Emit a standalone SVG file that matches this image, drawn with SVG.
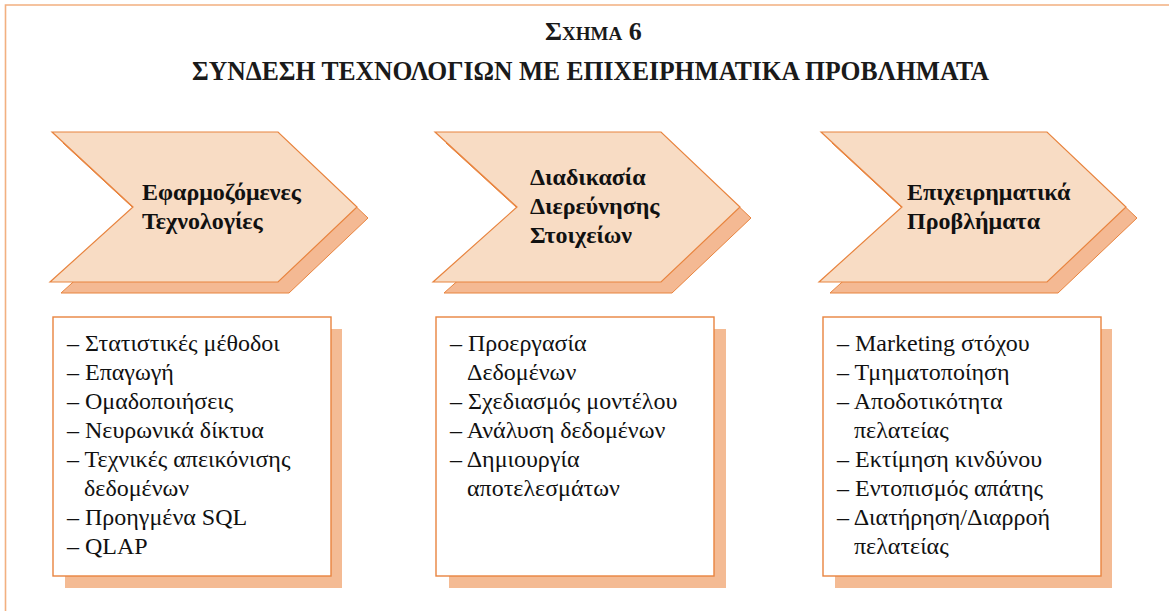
<svg xmlns="http://www.w3.org/2000/svg" width="1169" height="611" viewBox="0 0 1169 611">
<style>
.frame{fill:none;stroke:#F2B080;stroke-width:1.6}
.chev{fill:#F8DCC4;stroke:#E8843F;stroke-width:1.2}
.chevsh{fill:#F4B993;stroke:#E8843F;stroke-width:1}
.box{fill:#FFFFFF;stroke:#E8843F;stroke-width:1.4}
.boxsh{fill:#F4BB94}
.title{font-family:"Liberation Serif","Times New Roman",serif;font-weight:bold;fill:#1a1a1a}
.head{font-family:"Liberation Serif","Times New Roman",serif;font-weight:bold;font-size:24px;fill:#111}
.item{font-family:"Liberation Serif","Times New Roman",serif;font-size:24px;fill:#111}
</style>
<rect width="1169" height="611" fill="#FFFFFF"/>
<path class="frame" d="M5.5,611 V5 H1169"/>
<g id="title">
<text class="title" x="545" y="40"><tspan font-size="26">Σ</tspan><tspan font-size="19">ΧΗΜΑ</tspan><tspan font-size="26"> 6</tspan></text>
<text class="title" x="192" y="80" font-size="27" textLength="797" lengthAdjust="spacingAndGlyphs">ΣΥΝΔΕΣΗ ΤΕΧΝΟΛΟΓΙΩΝ ΜΕ ΕΠΙΧΕΙΡΗΜΑΤΙΚΑ ΠΡΟΒΛΗΜΑΤΑ</text>
</g>
<g id="node-technologies">
<polygon class="chevsh" points="63,143 289,143 368,218 289,293 61,293 144,218"/>
<polygon class="chev" points="52,132 278,132 357,207 278,282 50,282 133,207"/>
<text class="head" x="142" y="200">Εφαρμοζόμενες</text>
<text class="head" x="142" y="229">Τεχνολογίες</text>
</g>
<g id="node-process">
<polygon class="chevsh" points="446,143 672,143 751,218 672,293 444,293 528,218"/>
<polygon class="chev" points="435,132 661,132 740,207 661,282 433,282 517,207"/>
<text class="head" x="530" y="185">Διαδικασία</text>
<text class="head" x="530" y="214">Διερεύνησης</text>
<text class="head" x="530" y="243">Στοιχείων</text>
</g>
<g id="node-problems">
<polygon class="chevsh" points="832,143 1058,143 1137,218 1058,293 830,293 913,218"/>
<polygon class="chev" points="821,132 1047,132 1126,207 1047,282 819,282 902,207"/>
<text class="head" x="907" y="200">Επιχειρηματικά</text>
<text class="head" x="907" y="229">Προβλήματα</text>
</g>
<g id="box-technologies">
<rect class="boxsh" x="65" y="329" width="277" height="259"/>
<rect class="box" x="53" y="317" width="278" height="259"/>
<text class="item" x="67" y="351">– Στατιστικές μέθοδοι</text>
<text class="item" x="67" y="380">– Επαγωγή</text>
<text class="item" x="67" y="409">– Ομαδοποιήσεις</text>
<text class="item" x="67" y="438">– Νευρωνικά δίκτυα</text>
<text class="item" x="67" y="467">– Τεχνικές απεικόνισης</text>
<text class="item" x="84" y="496">δεδομένων</text>
<text class="item" x="67" y="525">– Προηγμένα SQL</text>
<text class="item" x="67" y="554">– QLAP</text>
</g>
<g id="box-process">
<rect class="boxsh" x="449" y="329" width="277" height="259"/>
<rect class="box" x="436" y="317" width="278" height="259"/>
<text class="item" x="450" y="351">– Προεργασία</text>
<text class="item" x="467" y="380">Δεδομένων</text>
<text class="item" x="450" y="409">– Σχεδιασμός μοντέλου</text>
<text class="item" x="450" y="438">– Ανάλυση δεδομένων</text>
<text class="item" x="450" y="467">– Δημιουργία</text>
<text class="item" x="467" y="496">αποτελεσμάτων</text>
</g>
<g id="box-problems">
<rect class="boxsh" x="835" y="329" width="277" height="259"/>
<rect class="box" x="823" y="317" width="278" height="259"/>
<text class="item" x="837" y="351">– Marketing στόχου</text>
<text class="item" x="837" y="380">– Τμηματοποίηση</text>
<text class="item" x="837" y="409">– Αποδοτικότητα</text>
<text class="item" x="854" y="438">πελατείας</text>
<text class="item" x="837" y="467">– Εκτίμηση κινδύνου</text>
<text class="item" x="837" y="496">– Εντοπισμός απάτης</text>
<text class="item" x="837" y="525">– Διατήρηση/Διαρροή</text>
<text class="item" x="854" y="554">πελατείας</text>
</g>
<g id="connectors"></g>
</svg>
